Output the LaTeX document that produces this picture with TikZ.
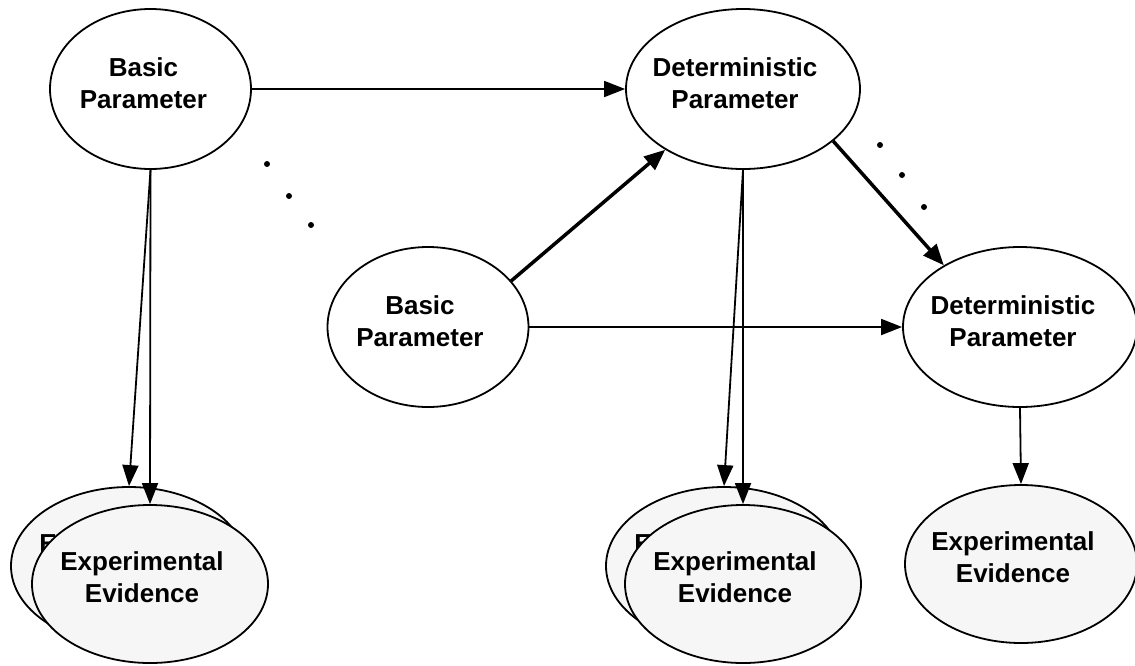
\documentclass[tikz,border=0pt]{standalone}
\usepackage{fontspec}
\setmainfont{Liberation Sans}
\usetikzlibrary{shapes.geometric,arrows.meta,calc}
\definecolor{evfill}{RGB}{246,246,246}
\begin{document}
\begin{tikzpicture}[x=1pt,y=-1pt,
  ell/.style={ellipse, draw=black, line width=1.8pt, inner sep=0pt},
  basicE/.style={ell, fill=white, minimum width=201pt, minimum height=160pt},
  detE/.style={ell, fill=white, minimum width=234pt, minimum height=160pt},
  evE/.style={ell, fill=evfill, minimum width=236pt, minimum height=158pt},
  txt/.style={font=\bfseries\fontsize{26}{32}\selectfont, align=center, inner sep=0pt},
  arr/.style={line width=1.8pt, -{Triangle[length=21pt,width=16pt]}},
  tarr/.style={line width=3.5pt, -{Triangle[length=21pt,width=17pt]}},
  dot/.style={fill=black}]
\useasboundingbox (0,0) rectangle (1135,665);

% parameter nodes
\node[basicE] (btop) at (150.5,89) {};
\node[detE] (dtop) at (743,89) {};
\node[basicE] (mbas) at (428,327) {};
\node[detE] (dright) at (1020,327) {};

\node[txt] (btopT) at ($(btop)+(-7,-6)$) {Basic\\Parameter};
\node[txt] (dtopT) at ($(dtop)+(-8,-6)$) {Deterministic\\Parameter};
\node[txt] (mbasT) at ($(mbas)+(-8,-6)$) {Basic\\Parameter};
\node[txt] (drightT) at ($(dright)+(-7,-6)$) {Deterministic\\Parameter};

% evidence stacks
\node[evE] (ebL) at (129,566) {};
\node[txt] (ebLT) at ($(ebL)+(-8,-7)$) {Experimental\\Evidence};
\node[evE] (efL) at (150,584) {};
\node[txt] (efLT) at ($(efL)+(-8,-7)$) {Experimental\\Evidence};

\node[evE] (ebM) at (724,566) {};
\node[txt] (ebMT) at ($(ebM)+(-8,-7)$) {Experimental\\Evidence};
\node[evE] (efM) at (743,584) {};
\node[txt] (efMT) at ($(efM)+(-8,-7)$) {Experimental\\Evidence};

\node[evE, minimum width=232pt] (eR) at (1021,564) {};
\node[txt] (eRT) at ($(eR)+(-8,-7)$) {Experimental\\Evidence};

% connectors
\draw[arr] (btop.east) -- (dtop.west);
\draw[arr] (btop.south) -- (ebL.north);
\draw[arr] (btop.south) -- (efL.north);
\draw[tarr] (mbas.29) -- (dtop.218);
\draw[arr] (mbas.east) -- (dright.west);
\draw[tarr] (dtop.-30) -- (dright.141);
\draw[arr] (dtop.south) -- (ebM.north);
\draw[arr] (dtop.south) -- (efM.north);
\draw[arr] (dright.south) -- (eR.north);

% dots
\fill[dot] (267,164) circle (3pt);
\fill[dot] (289,196) circle (3pt);
\fill[dot] (311,225) circle (3pt);
\fill[dot] (880,145) circle (3pt);
\fill[dot] (902,175) circle (3pt);
\fill[dot] (924,207) circle (3pt);
\end{tikzpicture}
\end{document}
